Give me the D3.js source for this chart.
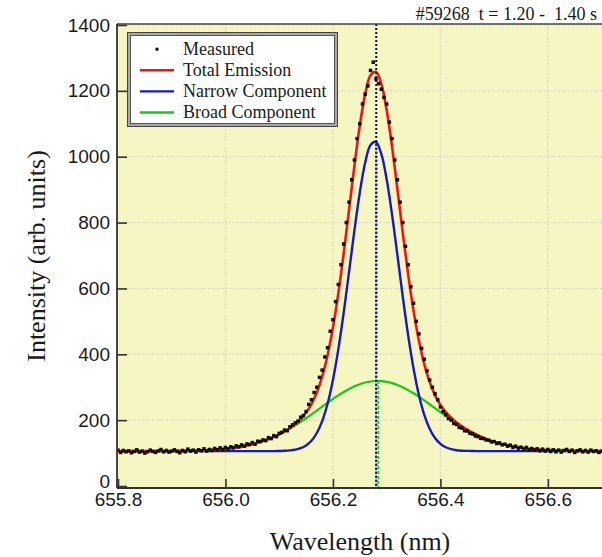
<!DOCTYPE html>
<html><head><meta charset="utf-8">
<script src="https://cdn.jsdelivr.net/npm/d3@7"></script>
<style>body{margin:0;background:#fff}svg{display:block}</style>
</head><body>
<svg id="chart" width="602" height="557"></svg>
<script>
// ---------- data ----------
const measuredStart = 655.8, measuredStep = 0.005;
const measured = [
 109,102,108,104,107,101,105,110,103,106,
 100,104,109,105,102,107,111,104,108,103,
 106,110,105,101,108,104,112,106,109,103,
 110,107,113,106,111,108,114,110,116,111,
 117,113,119,116,122,119,125,121,128,126,
 132,127,136,135,140,138,147,144,153,150,
 160,163,170,168,180,186,192,197,209,214,
 226,248,262,284,300,330,352,392,420,470,
 505,560,612,672,735,800,862,930,990,1055,
 1100,1160,1190,1215,1262,1287,1236,1222,1205,1180,
 1160,1105,1055,990,930,862,800,728,672,605,
 555,500,462,418,385,350,322,300,280,262,
 240,226,216,205,200,190,187,178,176,168,
 167,160,158,152,150,145,144,140,139,134,
 135,129,131,125,127,121,124,117,121,115,
 118,112,117,110,114,109,113,107,112,106,
 111,105,110,104,109,103,108,111,105,109,
 102,107,110,104,108,103,109,105,107,102,
 106
];
const curveStart = 655.8, curveStep = 0.01;
const totalEmission = [
 106,106,106,106,106,106,106.1,106.2,106.2,106.3,
 106.4,106.6,106.8,107.0,107.4,107.8,108.4,109.2,110.2,111.4,
 112.9,114.7,117.0,119.7,123.0,126.8,131.3,136.5,142.4,149.2,
 157.1,165.9,176.3,188.5,203.6,223.0,248.9,284.2,332.4,397.0,
 480.8,584.6,706.0,838.9,972.9,1094.7,1190.1,1247.1,1257.8,1221.0,
 1141.7,1030.7,901.8,768.6,642.9,532.7,441.6,370.2,316.1,276.0,
 246.5,224.4,207.2,193.1,181.3,171.1,161.8,153.6,146.4,139.9,
 134.3,129.4,125.2,121.6,118.5,116.0,113.9,112.2,110.9,109.8,
 108.9,108.2,107.6,107.2,106.9,106.7,106.5,106.4,106.2,106.2,
 106.1
];
const narrowComponent = [
 106,106,106,106,106,106,106,106,106,106,
 106,106,106,106,106,106,106,106,106,106,
 106,106,106,106,106,106,106,106,106,106,
 106.4,106.9,108.1,110.4,114.9,123.2,137.5,161.0,197.2,250.0,
 322.3,415.1,526.3,650.1,776.1,891.4,981.9,1035.6,1044.9,1008.4,
 931.3,824.3,700.9,574.8,457.6,357.0,276.4,216.2,173.8,145.6,
 128.1,117.7,111.9,108.8,107.3,106.6,106.2,106,106,106,
 106,106,106,106,106,106,106,106,106,106,
 106,106,106,106,106,106,106,106,106,106,
 106
];
const broadComponent = [
 106,106,106,106,106,106,106.1,106.2,106.2,106.3,
 106.4,106.6,106.8,107.0,107.4,107.8,108.4,109.2,110.2,111.4,
 112.9,114.7,117.0,119.7,123.0,126.8,131.3,136.5,142.4,149.2,
 156.7,165.0,174.2,184.1,194.7,205.8,217.4,229.2,241.2,253.0,
 264.5,275.5,285.7,294.8,302.8,309.3,314.2,317.5,318.9,318.6,
 316.4,312.4,306.9,299.8,291.3,281.7,271.2,260.0,248.3,236.4,
 224.4,212.7,201.3,190.3,180.0,170.5,161.6,153.6,146.4,139.9,
 134.3,129.4,125.2,121.6,118.5,116.0,113.9,112.2,110.9,109.8,
 108.9,108.2,107.6,107.2,106.9,106.7,106.5,106.4,106.2,106.2,
 106.1
];
const lineCenter = 656.2806;      // black dotted marker line
const narrowCenter = 656.2806, narrowPeak = 1046;
const broadCenter = 656.2845, broadPeak = 319;
const xTicks = [655.8, 656.0, 656.2, 656.4, 656.6];
const yTicks = [0, 200, 400, 600, 800, 1000, 1200, 1400];
const legendItems = [
  {label: "Measured", type: "point", color: "#111"},
  {label: "Total Emission", type: "line", color: "#f01414"},
  {label: "Narrow Component", type: "line", color: "#1818c0"},
  {label: "Broad Component", type: "line", color: "#18c818"}
];
const titleText = "#59268  t = 1.20 -  1.40 s";

// ---------- chart ----------
const W = 602, H = 557;
const L = 117, T = 24, B = 488;
const svg = d3.select("#chart");
const x = d3.scaleLinear().domain([655.8, 656.7]).range([118, 601.6]);
const y = d3.scaleLinear().domain([-6, 1400]).range([B, 25]);

svg.append("rect").attr("width", W).attr("height", H).attr("fill", "#fff");
svg.append("defs").append("clipPath").attr("id", "clip")
  .append("rect").attr("x", L).attr("y", T).attr("width", W - L).attr("height", B - T);

svg.append("rect").attr("x", L).attr("y", T).attr("width", W - L + 5).attr("height", B - T)
  .attr("fill", "#f6f6c2");

const plot = svg.append("g").attr("clip-path", "url(#clip)");
// grid
plot.selectAll(".gx").data(xTicks.slice(1)).enter().append("line")
  .attr("x1", d => x(d)).attr("x2", d => x(d)).attr("y1", T).attr("y2", B)
  .attr("stroke", "#d4d4c8").attr("stroke-width", 1).attr("stroke-dasharray", "2,1.5");
plot.selectAll(".gy").data(yTicks.slice(1)).enter().append("line")
  .attr("x1", L).attr("x2", W).attr("y1", d => y(d)).attr("y2", d => y(d))
  .attr("stroke", "#d4d4c8").attr("stroke-width", 1).attr("stroke-dasharray", "2,1.5");

const cw = i => curveStart + i * curveStep;
const line = d3.line().x((d, i) => x(cw(i))).y(d => y(d)).curve(d3.curveCatmullRom);

plot.append("path").attr("d", line(broadComponent)).attr("fill", "none")
  .attr("stroke", legendItems[3].color).attr("stroke-width", 2.2);
plot.append("path").attr("d", line(narrowComponent)).attr("fill", "none")
  .attr("stroke", legendItems[2].color).attr("stroke-width", 2.4);
plot.append("path").attr("d", line(totalEmission)).attr("fill", "none")
  .attr("stroke", legendItems[1].color).attr("stroke-width", 2.6);

plot.selectAll(".pt").data(measured).enter().append("rect")
  .attr("x", (d, i) => x(measuredStart + i * measuredStep) - 1.75)
  .attr("y", d => y(d) - 1.75).attr("width", 3.5).attr("height", 3.5).attr("fill", "#111");

// vertical marker lines
plot.append("line").attr("x1", x(lineCenter)).attr("x2", x(lineCenter))
  .attr("y1", T).attr("y2", B).attr("stroke", "#111").attr("stroke-width", 2)
  .attr("stroke-dasharray", "2,2");
plot.append("line").attr("x1", x(narrowCenter)).attr("x2", x(narrowCenter))
  .attr("y1", y(narrowPeak)).attr("y2", B).attr("stroke", "#1818c0").attr("stroke-width", 2)
  .attr("stroke-dasharray", "2,2").attr("stroke-dashoffset", 2);
plot.append("line").attr("x1", x(broadCenter)).attr("x2", x(broadCenter))
  .attr("y1", y(broadPeak)).attr("y2", B).attr("stroke", "#18c818").attr("stroke-width", 1.6)
  .attr("stroke-dasharray", "3,2");

// frame
svg.append("line").attr("x1", L).attr("x2", W).attr("y1", T).attr("y2", T)
  .attr("stroke", "#444").attr("stroke-width", 1.5);
svg.append("line").attr("x1", L).attr("x2", W).attr("y1", B).attr("y2", B)
  .attr("stroke", "#333").attr("stroke-width", 1.8);
svg.append("line").attr("x1", L).attr("x2", L).attr("y1", T).attr("y2", B)
  .attr("stroke", "#333").attr("stroke-width", 1.8);

// axes
const yAxis = svg.append("g").attr("transform", `translate(${L},0)`)
  .call(d3.axisLeft(y).tickValues(yTicks).tickFormat(d3.format("d"))
    .tickSizeInner(-10).tickSizeOuter(0).tickPadding(7));
const xAxis = svg.append("g").attr("transform", `translate(0,${B})`)
  .call(d3.axisBottom(x).tickValues(xTicks).tickFormat(d3.format(".1f"))
    .tickSizeInner(-9).tickSizeOuter(0).tickPadding(4.5));
[yAxis, xAxis].forEach(a => {
  a.select(".domain").remove();
  a.selectAll(".tick line").attr("stroke", "#333").attr("stroke-width", 1.6);
  a.selectAll(".tick text").attr("fill", "#1a1a1a")
    .style("font-family", "'Liberation Sans', Arial, sans-serif").style("font-size", "19px");
});
// the "0" label sits just above the x labels, as in the original
yAxis.selectAll(".tick text").filter(d => d === 0).attr("dy", "0.1em");

// axis titles
svg.append("text").attr("x", 360).attr("y", 550).attr("text-anchor", "middle")
  .style("font-family", "'Liberation Serif', 'Times New Roman', serif").style("font-size", "26px")
  .attr("fill", "#1a1a1a").text("Wavelength (nm)");
svg.append("text").attr("transform", "translate(45,256) rotate(-90)").attr("text-anchor", "middle")
  .style("font-family", "'Liberation Serif', 'Times New Roman', serif").style("font-size", "26px")
  .attr("fill", "#1a1a1a").text("Intensity (arb. units)");

// title
svg.append("text").attr("x", 597).attr("y", 20).attr("text-anchor", "end")
  .attr("xml:space", "preserve").style("white-space", "pre")
  .style("font-family", "'Liberation Serif', 'Times New Roman', serif").style("font-size", "18px")
  .attr("fill", "#1a1a1a").text(titleText);

// legend
const lg = svg.append("g");
lg.append("rect").attr("x", 127.5).attr("y", 32.5).attr("width", 210).attr("height", 94)
  .attr("fill", "#a8a8a8").attr("stroke", "#444").attr("stroke-width", 1);
lg.append("rect").attr("x", 130.5).attr("y", 35.5).attr("width", 204).attr("height", 88)
  .attr("fill", "#fff").attr("stroke", "#555").attr("stroke-width", 1);
legendItems.forEach((it, i) => {
  const by = 55 + i * 21.1;
  const cy = by - 5.8;
  if (it.type === "point") {
    lg.append("rect").attr("x", 155.5).attr("y", cy - 1.5).attr("width", 3).attr("height", 3)
      .attr("fill", it.color);
  } else {
    lg.append("line").attr("x1", 140).attr("x2", 174).attr("y1", cy).attr("y2", cy)
      .attr("stroke", it.color).attr("stroke-width", 2.4);
  }
  lg.append("text").attr("x", 183).attr("y", by)
    .style("font-family", "'Liberation Serif', 'Times New Roman', serif").style("font-size", "18px")
    .attr("fill", "#1a1a1a").text(it.label);
});
</script>
</body></html>
